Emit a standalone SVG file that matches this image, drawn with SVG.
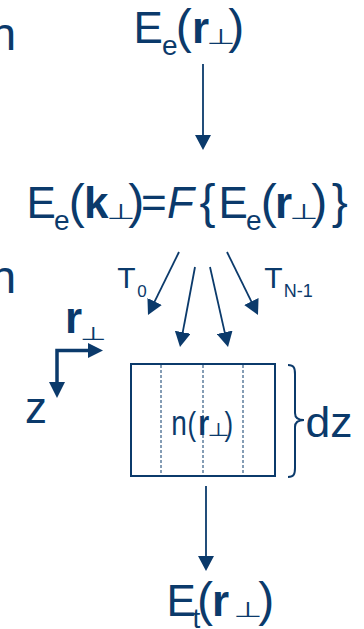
<svg xmlns="http://www.w3.org/2000/svg" width="364" height="629" viewBox="0 0 364 629">
<defs>
<style>
text{font-family:"Liberation Sans",Arial,sans-serif;fill:#0b3a6b}
.m{font-size:44px}
.p{font-size:48px}
.s{font-size:28px}
.b{font-weight:bold}
.i{font-style:italic}
.perp{font-family:"DejaVu Sans",sans-serif;font-size:36px;text-anchor:middle}
.ln{stroke:#0b3a6b;stroke-width:1.8;fill:none}
.thick{stroke:#0b3a6b;stroke-width:3.5;fill:none;stroke-linejoin:miter}
.box{stroke:#0b3a6b;stroke-width:2;fill:none}
.dash{stroke:#0b3a6b;stroke-width:1;stroke-dasharray:3 2;fill:none}
.head{fill:#0b3a6b}
</style>
<marker id="ah" viewBox="0 0 15 16" refX="9" refY="8" markerWidth="15" markerHeight="16" markerUnits="userSpaceOnUse" orient="auto"><path d="M0,0L15,8L0,16z" fill="#0b3a6b"/></marker>
</defs>

<g id="edge-left-text">
<text style="font-size:47px" x="-10" y="50">n</text>
<text style="font-size:47px" x="-10" y="293">n</text>
</g>

<g id="n-input">
<text><tspan class="m" x="133.5" y="43">E</tspan><tspan class="s" x="162" y="55">e</tspan><tspan class="p" x="175.7" y="43">(</tspan><tspan class="m b" x="192" y="43">r</tspan><tspan class="p" x="228.3" y="43">)</tspan></text>
<text class="perp" transform="translate(221,44) scale(0.92,0.6)">⊥</text>
</g>

<g id="n-fourier">
<text><tspan class="m" x="26.5" y="218">E</tspan><tspan class="s" x="54" y="230">e</tspan><tspan class="p" x="68.7" y="218">(</tspan><tspan class="m b" x="84" y="218">k</tspan><tspan class="p" x="128.3" y="218">)</tspan><tspan class="m" x="141" y="218">=</tspan><tspan class="m i" x="167" y="218">F</tspan><tspan class="p" x="199.5" y="218">{</tspan><tspan class="m" x="218.5" y="218">E</tspan><tspan class="s" x="246" y="230">e</tspan><tspan class="p" x="260.7" y="218">(</tspan><tspan class="m b" x="275" y="218">r</tspan><tspan class="p" x="311.3" y="218">)</tspan><tspan class="p" x="331.8" y="218">}</tspan></text>
<text class="perp" transform="translate(121,219) scale(0.92,0.6)">⊥</text>
<text class="perp" transform="translate(304,219) scale(0.92,0.6)">⊥</text>
</g>

<g id="labels-T">
<text><tspan style="font-size:30px" x="117.3" y="288">T</tspan><tspan style="font-size:17px" x="137.3" y="297">0</tspan></text>
<text><tspan style="font-size:30px" x="264.3" y="288">T</tspan><tspan style="font-size:18px" x="283.7" y="297">N-1</tspan></text>
</g>

<g id="axes">
<path class="thick" d="M89,350.5H57V383"/>
<polygon class="head" points="88,343 103,350.5 88,358"/>
<polygon class="head" points="49,382 65,382 57,398"/>
<text class="m b" x="65" y="333">r</text>
<text class="perp" transform="translate(93,340) scale(0.84,0.52)">⊥</text>
<text class="m" x="25" y="423">z</text>
</g>

<g id="slab">
<rect class="box" x="131" y="364" width="144" height="112"/>
<line class="dash" x1="161" y1="365" x2="161" y2="475"/>
<line class="dash" x1="203" y1="365" x2="203" y2="475"/>
<line class="dash" x1="243" y1="365" x2="243" y2="475"/>
<g transform="translate(173,435) scale(0.78,1)">
<text><tspan style="font-size:36px" x="-2.3" y="0">n</tspan><tspan style="font-size:33px" x="18.5" y="0">(</tspan><tspan class="b" style="font-size:36px" x="32.5" y="0">r</tspan><tspan style="font-size:33px" x="66" y="0">)</tspan></text>
</g>
<text class="perp" transform="translate(218,436) scale(0.71,0.52)">⊥</text>
</g>

<g id="thickness">
<path class="box" d="M288,365C294,365 295,368 295,374L295,413C295,418 298,420 304,420C298,420 295,422 295,427L295,468C295,474 294,477 288,477"/>
<text style="font-size:43px" x="305.5" y="437" textLength="47" lengthAdjust="spacingAndGlyphs">dz</text>
</g>

<g id="n-output">
<text><tspan class="m" x="166.5" y="616">E</tspan><tspan class="s" x="192.6" y="628">t</tspan><tspan class="p" x="197" y="616">(</tspan><tspan class="m b" x="212" y="616">r</tspan><tspan class="p" x="258.3" y="616">)</tspan></text>
<text class="perp" transform="translate(248,617) scale(0.92,0.6)">⊥</text>
</g>

<g id="connectors">
<line class="ln" x1="203" y1="64" x2="203" y2="144" marker-end="url(#ah)"/>
<line class="ln" x1="179" y1="252" x2="150.65" y2="309.6" marker-end="url(#ah)"/>
<line class="ln" x1="195" y1="267" x2="181.1" y2="341.1" marker-end="url(#ah)"/>
<line class="ln" x1="210" y1="267" x2="226.7" y2="341.1" marker-end="url(#ah)"/>
<line class="ln" x1="227" y1="252" x2="255.35" y2="309.6" marker-end="url(#ah)"/>
<line class="ln" x1="206" y1="486" x2="206" y2="565" marker-end="url(#ah)"/>
</g>
</svg>
